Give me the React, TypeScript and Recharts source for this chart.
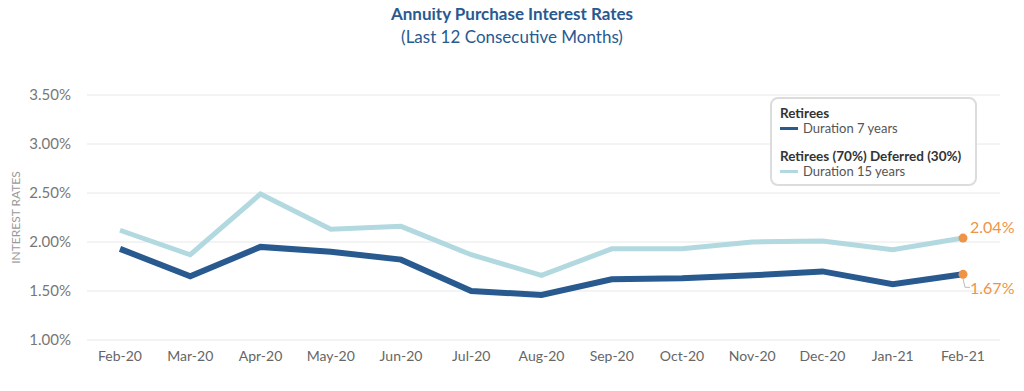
import React from "react";
import { CartesianGrid, Line, LineChart, XAxis, YAxis } from "recharts";

const months = ["Feb-20", "Mar-20", "Apr-20", "May-20", "Jun-20", "Jul-20", "Aug-20", "Sep-20", "Oct-20", "Nov-20", "Dec-20", "Jan-21", "Feb-21"];
const retirees = [1.93, 1.65, 1.95, 1.9, 1.82, 1.5, 1.46, 1.62, 1.63, 1.66, 1.7, 1.57, 1.67];
const deferred = [2.12, 1.87, 2.49, 2.13, 2.16, 1.87, 1.66, 1.93, 1.93, 2.0, 2.01, 1.92, 2.04];
const yTicks = [1.0, 1.5, 2.0, 2.5, 3.0, 3.5];

const data = months.map((m, i) => ({ month: m, retirees: retirees[i], deferred: deferred[i] }));

const DARK = "#285a90";
const LIGHT = "#b2d9e0";
const ORANGE = "#ee9447";
const FONT = "Lato, 'Open Sans', sans-serif";

const lastIdx = months.length - 1;

const EndDot = (props: any) => {
  const { cx, cy, index, dataKey } = props;
  if (index !== lastIdx) return <g key={`d-${dataKey}-${index}`} />;
  const val = dataKey === "retirees" ? retirees[lastIdx] : deferred[lastIdx];
  const up = dataKey === "deferred";
  return (
    <g key={`d-${dataKey}-${index}`}>
      {!up && (
        <polyline points={`${cx},${cy + 4} ${cx + 2},${cy + 13} ${cx + 7},${cy + 13}`} fill="none" stroke="#bbb" strokeWidth={1} />
      )}
      <circle cx={cx} cy={cy} r={4.5} fill={ORANGE} />
      <text x={cx + 7} y={up ? cy - 5 : cy + 20} fill={ORANGE} fontSize={16} fontFamily={FONT}>
        {val.toFixed(2)}%
      </text>
    </g>
  );
};

const LegendBox = () => (
  <div
    style={{
      position: "absolute",
      top: 97,
      left: 770,
      width: 207,
      height: 89,
      border: "2px solid #dcdcdc",
      borderRadius: 8,
      background: "#fff",
      boxSizing: "border-box",
      padding: "7px 8px",
      fontFamily: FONT,
      fontSize: 13,
      color: "#555",
      lineHeight: "15px",
      textAlign: "left",
      whiteSpace: "nowrap",
    }}
  >
    <div style={{ fontWeight: 700, color: "#333", fontSize: 13.5 }}>Retirees</div>
    <div style={{ display: "flex", alignItems: "center" }}>
      <span style={{ display: "inline-block", width: 18, height: 3, background: DARK, marginRight: 5 }} />
      Duration 7 years
    </div>
    <div style={{ fontWeight: 700, color: "#333", fontSize: 13.5, marginTop: 13 }}>Retirees (70%) Deferred (30%)</div>
    <div style={{ display: "flex", alignItems: "center" }}>
      <span style={{ display: "inline-block", width: 18, height: 3, background: LIGHT, marginRight: 5 }} />
      Duration 15 years
    </div>
  </div>
);

export default function App() {
  return (
    <div style={{ position: "relative", width: 1024, height: 391, margin: -8, background: "#fff", fontFamily: FONT }}>
      <div style={{ position: "absolute", top: 2, left: 0, width: 1024, textAlign: "center", color: DARK, fontSize: 17, lineHeight: "23px" }}>
        <div style={{ fontWeight: 700 }}>Annuity Purchase Interest Rates</div>
        <div>(Last 12 Consecutive Months)</div>
      </div>
      <LineChart width={1024} height={391} data={data} margin={{ top: 95, right: 24, bottom: 21, left: 0 }}>
        <CartesianGrid vertical={false} stroke="#e8e8e8" />
        <XAxis
          dataKey="month"
          axisLine={false}
          tickLine={false}
          padding={{ left: 33, right: 37 }}
          tickMargin={5}
          interval={0}
          tick={{ fill: "#666", fontSize: 14, fontFamily: FONT }}
        />
        <YAxis
          domain={[1, 3.5]}
          ticks={yTicks}
          width={87}
          axisLine={false}
          tickLine={false}
          tickMargin={10}
          tickFormatter={(v: number) => `${v.toFixed(2)}%`}
          tick={{ fill: "#777", fontSize: 15, fontFamily: FONT }}
          label={{ value: "INTEREST RATES", angle: -90, position: "insideLeft", offset: 16, fill: "#999", fontSize: 12, fontFamily: FONT, style: { textAnchor: "middle" } }}
        />
        <Line type="linear" dataKey="deferred" stroke={LIGHT} strokeWidth={5} dot={EndDot} activeDot={false} isAnimationActive={false} />
        <Line type="linear" dataKey="retirees" stroke={DARK} strokeWidth={6} dot={EndDot} activeDot={false} isAnimationActive={false} />
      </LineChart>
      <LegendBox />
    </div>
  );
}
